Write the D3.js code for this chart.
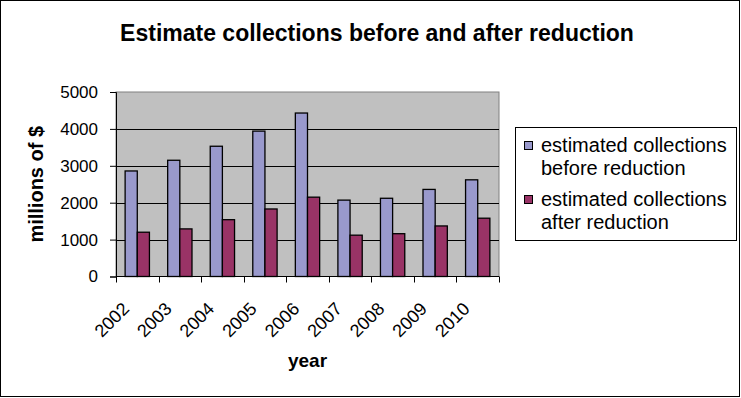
<!DOCTYPE html>
<html>
<head>
<meta charset="utf-8">
<script src="https://cdn.jsdelivr.net/npm/d3@7/dist/d3.min.js"></script>
<style>
  html, body { margin: 0; padding: 0; background: #fff; }
  svg { display: block; font-family: "Liberation Sans", Arial, sans-serif; }
</style>
</head>
<body>
<svg id="chart" width="741" height="398"></svg>
<script>
// Estimated collections (millions of $) by year
const years = ["2002", "2003", "2004", "2005", "2006", "2007", "2008", "2009", "2010"];
const beforeReduction = [2860, 3150, 3530, 3940, 4430, 2070, 2120, 2360, 2620];
const afterReduction  = [1200, 1290, 1540, 1830, 2150, 1120, 1160, 1370, 1580];
const seriesNames = ["estimated collections before reduction", "estimated collections after reduction"];
const legendLines = [["estimated collections", "before reduction"], ["estimated collections", "after reduction"]];
const seriesColors = ["#9999cc", "#993366"];
const yTicks = [0, 1000, 2000, 3000, 4000, 5000];

const svg = d3.select("#chart");
const W = 741, H = 398;

// outer frame
svg.append("rect").attr("x", 0.5).attr("y", 0.5).attr("width", W - 2).attr("height", H - 2)
  .attr("fill", "#fff").attr("stroke", "#000");

const plot = { left: 116, right: 499, top: 92, bottom: 276.5 };

const x = d3.scaleBand().domain(years).range([plot.left, plot.right])
  .paddingInner(1.5 / 3.5).paddingOuter(0.75 / 3.5);
const xs = d3.scaleBand().domain([0, 1]).range([0, x.bandwidth()]);
const y = d3.scaleLinear().domain([0, 5000]).range([plot.bottom, plot.top]);

// plot background
svg.append("rect").attr("x", plot.left).attr("y", plot.top)
  .attr("width", plot.right - plot.left).attr("height", plot.bottom - plot.top)
  .attr("fill", "#c0c0c0").attr("stroke", "#808080");

// gridlines
svg.append("g").selectAll("line").data(yTicks.filter(d => d > 0 && d < 5000)).join("line")
  .attr("x1", plot.left).attr("x2", plot.right)
  .attr("y1", d => Math.round(y(d)) + 0.5).attr("y2", d => Math.round(y(d)) + 0.5)
  .attr("stroke", "#000").attr("stroke-width", 1);

// bars
const series = [beforeReduction, afterReduction];
series.forEach((vals, si) => {
  svg.append("g").selectAll("rect").data(years).join("rect")
    .attr("x", (d) => x(d) + xs(si))
    .attr("y", (d, i) => y(vals[i]))
    .attr("width", xs.bandwidth())
    .attr("height", (d, i) => y(0) - y(vals[i]))
    .attr("fill", seriesColors[si])
    .attr("stroke", "#000").attr("stroke-width", 1.3);
});

// y axis
const yAxis = svg.append("g").attr("transform", `translate(${plot.left},0)`)
  .call(d3.axisLeft(y).tickValues(yTicks).tickSize(6).tickPadding(12).tickFormat(d3.format("d")));
yAxis.select(".domain").attr("stroke", "#000");
yAxis.selectAll(".tick line").attr("stroke", "#000");
yAxis.selectAll(".tick text").attr("font-size", 17).attr("fill", "#000")
  .attr("font-family", "'Liberation Sans', Arial, sans-serif");

// x axis line and category boundary ticks
const half = (x.step() - x.bandwidth()) / 2;
const bounds = years.map(d => x(d) - half).concat([x(years[years.length - 1]) + x.bandwidth() + half]);
svg.append("line").attr("x1", plot.left).attr("x2", plot.right)
  .attr("y1", plot.bottom).attr("y2", plot.bottom).attr("stroke", "#000");
svg.append("g").selectAll("line").data(bounds).join("line")
  .attr("x1", d => Math.round(d) + 0.5).attr("x2", d => Math.round(d) + 0.5)
  .attr("y1", plot.bottom).attr("y2", plot.bottom + 6).attr("stroke", "#000");

// rotated year labels
svg.append("g").selectAll("text").data(years).join("text")
  .attr("transform", d => `translate(${x(d) + x.bandwidth() / 2 - 7},310) rotate(-45)`)
  .attr("text-anchor", "end").attr("font-size", 18).attr("fill", "#000")
  .text(d => d);

// axis titles
svg.append("text").attr("x", (plot.left + plot.right) / 2).attr("y", 367)
  .attr("text-anchor", "middle").attr("font-size", 19).attr("font-weight", "bold").text("year");
svg.append("text").attr("transform", `translate(43,${(plot.top + plot.bottom) / 2}) rotate(-90)`)
  .attr("text-anchor", "middle").attr("font-size", 20).attr("font-weight", "bold").text("millions of $");

// title
svg.append("text").attr("x", 377).attr("y", 41).attr("text-anchor", "middle")
  .attr("font-size", 23).attr("font-weight", "bold").text("Estimate collections before and after reduction");

// legend
const lg = svg.append("g");
lg.append("rect").attr("x", 515.5).attr("y", 127.5).attr("width", 221).attr("height", 113)
  .attr("fill", "#fff").attr("stroke", "#000");
const itemTop = [152, 206];
legendLines.forEach((lines, i) => {
  lg.append("rect").attr("x", 524.5).attr("y", itemTop[i] - 10.5).attr("width", 8).attr("height", 8)
    .attr("fill", seriesColors[i]).attr("stroke", "#000");
  lines.forEach((t, j) => {
    lg.append("text").attr("x", 541).attr("y", itemTop[i] + j * 23)
      .attr("font-size", 20).attr("fill", "#000").text(t);
  });
});
</script>
</body>
</html>
